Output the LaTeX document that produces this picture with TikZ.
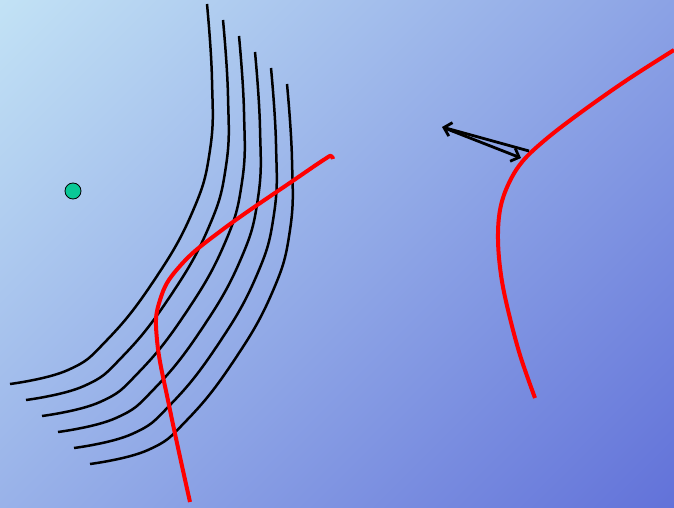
\documentclass[tikz,border=0pt]{standalone}
\usetikzlibrary{arrows.meta}
\definecolor{bgA}{RGB}{194,226,245}
\definecolor{bgB}{RGB}{98,114,217}
\definecolor{dotgreen}{RGB}{10,200,150}
\definecolor{curvered}{RGB}{255,0,0}
\pgfdeclareverticalshading{bgdiag}{100bp}{color(0bp)=(bgB); color(14.6bp)=(bgB); color(85.4bp)=(bgA); color(100bp)=(bgA)}
\tikzset{
  levelline/.style={black, line width=2.5pt, line cap=butt},
  redline/.style={curvered, line width=4pt, line cap=butt, line join=round},
  vecline/.style={black, line width=2.8pt, -{Straight Barb[length=7pt,width=14pt,line width=2.8pt]}},
}
\begin{document}
\begin{tikzpicture}[x=1pt,y=-1pt]
\useasboundingbox (0,0) rectangle (674,508);
\shade[shading=bgdiag, shading angle=45] (0,0) rectangle (674,508);
% level curves
\foreach \k in {0,...,5}{
  \begin{scope}[shift={(16*\k,16*\k)}]
  \draw[levelline] plot[smooth, tension=0.75] coordinates {(207,4) (212,80) (210,150) (192,213) (153,282) (107,340) (68,370) (10,384)};
  \end{scope}
}
% red curves
\draw[redline] plot[smooth, tension=0.7] coordinates {(190,502) (170,410) (157,340) (160,300) (180,266) (222,230) (297,178) (325,159) (331,156) (333,159)};
\draw[redline] plot[smooth, tension=0.6] coordinates {(674,50) (627,80) (580,113) (545,140) (522,162) (508,185) (500,210) (498,240) (501,275) (508,310) (520,355) (535,398)};
% dot
\node[circle, draw=black, line width=0.8pt, fill=dotgreen, minimum size=16pt, inner sep=0pt] (dot) at (73,191) {};
% vectors
\coordinate (P) at (529,151);
\coordinate (Q) at (442,127);
\coordinate (S) at (447,129);
\coordinate (R) at (521,158);
\draw[vecline] (P) -- (Q);
\draw[vecline] (S) -- (R);
\end{tikzpicture}
\end{document}
